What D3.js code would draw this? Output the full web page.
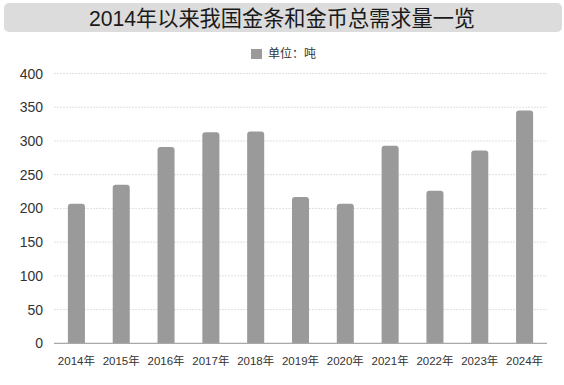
<!DOCTYPE html>
<html>
<head>
<meta charset="utf-8">
<script src="https://cdn.jsdelivr.net/npm/d3@7"></script>
<style>
body{margin:0;background:#fff;}
text{font-family:"Liberation Sans","Noto Sans CJK SC",sans-serif;}
</style>
</head>
<body>
<script>
const svg_width = 564, svg_height = 385;
var years = ["2014年","2015年","2016年","2017年","2018年","2019年","2020年","2021年","2022年","2023年","2024年"];
var demand = [207,235,291,313,314,217,207,293,226,286,345];
var yTicks = [0,50,100,150,200,250,300,350,400];
var titleText = "2014年以来我国金条和金币总需求量一览";
var legendText = "单位：吨";

var svg = d3.select("body").append("svg")
.attr("width",svg_width)
.attr("height",svg_height);

// title bar
svg.append("rect")
.attr("x",4).attr("y",3)
.attr("width",558).attr("height",29)
.attr("rx",5)
.style("fill","#dcdcdc");
svg.append("text")
.attr("x",282).attr("y",26)
.attr("text-anchor","middle")
.style("font-size","21.2px")
.style("fill","#1a1a1a")
.text(titleText);

// legend
svg.append("rect")
.attr("x",251).attr("y",49)
.attr("width",11).attr("height",10)
.style("fill","#9a9a9a");
svg.append("text")
.attr("x",268).attr("y",58)
.style("font-size","12px")
.style("fill","#333")
.text(legendText);

var xScale = d3.scaleBand().domain(years).range([54,547]).paddingInner(0.62).paddingOuter(0.31);
var yScale = d3.scaleLinear().domain([0,400]).range([343.3,73.5]);

// gridlines
svg.append("g").selectAll("line")
.data(yTicks.filter(function(d){return d>0}))
.enter().append("line")
.attr("x1",54).attr("x2",547)
.attr("y1",function(d){return yScale(d)})
.attr("y2",function(d){return yScale(d)})
.attr("stroke","#e0e0e0")
.attr("stroke-width",1)
.attr("stroke-dasharray","2,1");

// y labels
svg.append("g").selectAll("text")
.data(yTicks)
.enter().append("text")
.attr("x",43)
.attr("y",function(d){return yScale(d)+5})
.attr("text-anchor","end")
.style("font-size","14px")
.style("fill","#333")
.text(function(d){return d});

// bars with rounded top
var r = 3;
svg.append("g").selectAll("path")
.data(demand)
.enter().append("path")
.attr("d",function(d,i){
	var x0 = xScale(years[i]), w = xScale.bandwidth(), y0 = yScale(d), yb = yScale(0);
	return "M"+x0+","+yb+"V"+(y0+r)+"Q"+x0+","+y0+" "+(x0+r)+","+y0+"H"+(x0+w-r)+"Q"+(x0+w)+","+y0+" "+(x0+w)+","+(y0+r)+"V"+yb+"Z";
})
.style("fill","#9a9a9a");

// x axis line
svg.append("line")
.attr("x1",54).attr("x2",547)
.attr("y1",yScale(0)).attr("y2",yScale(0))
.attr("stroke","#a8a8a8")
.attr("stroke-width",1.2);

// x labels
svg.append("g").selectAll("text")
.data(years)
.enter().append("text")
.attr("x",function(d){return xScale(d)+xScale.bandwidth()/2})
.attr("y",365)
.attr("text-anchor","middle")
.style("font-size","11.5px")
.style("fill","#333")
.text(function(d){return d});
</script>
</body>
</html>
